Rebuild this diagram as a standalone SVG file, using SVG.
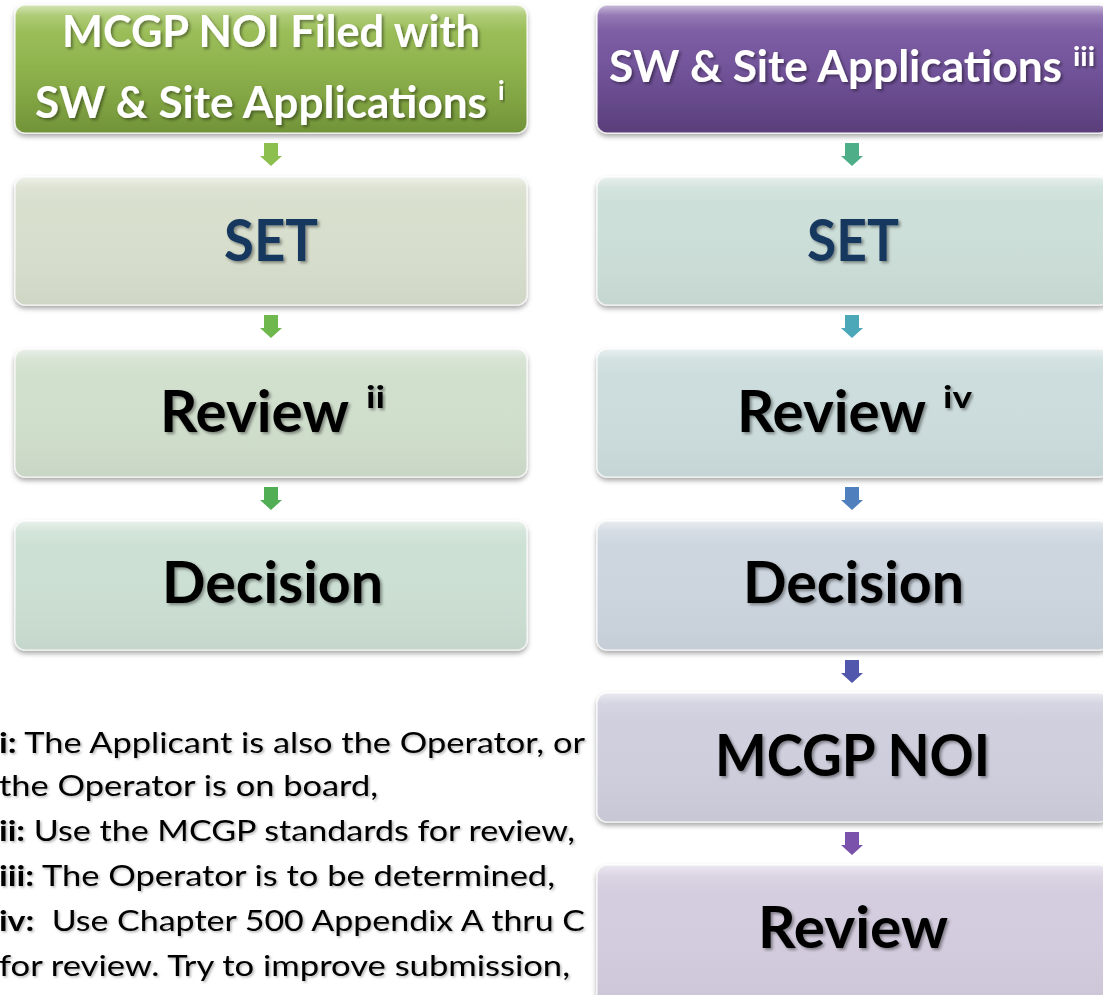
<svg xmlns="http://www.w3.org/2000/svg" width="1103" height="995" viewBox="0 0 1103 995">
<style>
  .hdr { font-family: Lato, "Liberation Sans", sans-serif; font-weight: 700; fill: #ffffff; font-size: 44px; filter: url(#tsh); }
  .lbl { font-family: Lato, "Liberation Sans", sans-serif; font-weight: 700; font-size: 58px; fill: #000000; filter: url(#tsh); }
  .hdr.sup { font-size: 26px; }
  .lbl.sup { font-size: 30px; }
  .navy { fill: #17375E; }
  .note { font-family: Lato, "Liberation Sans", sans-serif; font-size: 28px; fill: #000000; filter: url(#tsh2); }
  .note tspan.b { font-weight: 700; }
  .box { stroke: #ffffff; stroke-opacity: 0.7; stroke-width: 1.5; filter: url(#bsh); }
  .gloss { fill: url(#gloss); }
</style>
<defs>
  <filter id="bsh" x="-5%" y="-10%" width="110%" height="130%">
    <feDropShadow dx="0" dy="3" stdDeviation="2.5" flood-color="#000000" flood-opacity="0.35"/>
  </filter>
  <filter id="tsh" x="-5%" y="-10%" width="110%" height="130%">
    <feDropShadow dx="2" dy="2" stdDeviation="1.5" flood-color="#000000" flood-opacity="0.4"/>
  </filter>
  <filter id="tsh2" x="-5%" y="-10%" width="110%" height="130%">
    <feDropShadow dx="1.5" dy="1.5" stdDeviation="1" flood-color="#000000" flood-opacity="0.3"/>
  </filter>
  <linearGradient id="gGreen" x1="0" y1="0" x2="0" y2="1">
    <stop offset="0" stop-color="#A4C663"/>
    <stop offset="0.5" stop-color="#8EB24B"/>
    <stop offset="1" stop-color="#76993A"/>
  </linearGradient>
  <linearGradient id="gPurple" x1="0" y1="0" x2="0" y2="1">
    <stop offset="0" stop-color="#8666AB"/>
    <stop offset="0.5" stop-color="#71529A"/>
    <stop offset="1" stop-color="#5D407F"/>
  </linearGradient>
  <linearGradient id="gloss" x1="0" y1="0" x2="0" y2="1">
    <stop offset="0" stop-color="#ffffff" stop-opacity="0.55"/>
    <stop offset="0.08" stop-color="#ffffff" stop-opacity="0.15"/>
    <stop offset="0.2" stop-color="#ffffff" stop-opacity="0"/>
    <stop offset="1" stop-color="#000000" stop-opacity="0.04"/>
  </linearGradient>
  <path id="arr" d="M-7,0 H7 V13 H11 L0,23 L-11,13 H-7 Z"/>
</defs>
<rect width="1103" height="995" fill="#ffffff"/>

<g id="connectors">
  <use href="#arr" x="271" y="143" fill="#8DBF4E"/>
  <use href="#arr" x="271" y="315" fill="#6FB84E"/>
  <use href="#arr" x="271" y="487" fill="#52AE55"/>
  <use href="#arr" x="852" y="143" fill="#4DAE88"/>
  <use href="#arr" x="852" y="315" fill="#4AA8B8"/>
  <use href="#arr" x="852" y="487" fill="#4F7FBD"/>
  <use href="#arr" x="852" y="660" fill="#5157AD"/>
  <use href="#arr" x="852" y="832" fill="#7A52AC"/>
</g>

<g id="node-left-header">
  <rect class="box" x="15" y="5" width="512" height="128" rx="10" fill="url(#gGreen)"/>
  <rect class="gloss" x="15" y="5" width="512" height="128" rx="10"/>
  <text class="hdr" x="62" y="47" textLength="418" lengthAdjust="spacingAndGlyphs">MCGP NOI Filed with</text>
  <text class="hdr" x="35" y="118" textLength="452" lengthAdjust="spacingAndGlyphs">SW &amp; Site Applications</text>
  <text class="hdr sup" x="498" y="100">i</text>
</g>
<g id="node-left-set">
  <rect class="box" x="15" y="177" width="512" height="128" rx="10" fill="#D8DFCD"/>
  <rect class="gloss" x="15" y="177" width="512" height="128" rx="10"/>
  <text class="lbl navy" x="224" y="261" textLength="94" lengthAdjust="spacingAndGlyphs">SET</text>
</g>
<g id="node-left-review">
  <rect class="box" x="15" y="349" width="512" height="128" rx="10" fill="#D1DFCD"/>
  <rect class="gloss" x="15" y="349" width="512" height="128" rx="10"/>
  <text class="lbl" x="160" y="432" textLength="189" lengthAdjust="spacingAndGlyphs">Review</text>
  <text class="lbl sup" x="366" y="408" textLength="19" lengthAdjust="spacingAndGlyphs">ii</text>
</g>
<g id="node-left-decision">
  <rect class="box" x="15" y="521" width="512" height="129" rx="10" fill="#CDE0D4"/>
  <rect class="gloss" x="15" y="521" width="512" height="129" rx="10"/>
  <text class="lbl" x="162" y="603" textLength="221" lengthAdjust="spacingAndGlyphs">Decision</text>
</g>

<g id="node-right-header">
  <rect class="box" x="597" y="5" width="512" height="128" rx="10" fill="url(#gPurple)"/>
  <rect class="gloss" x="597" y="5" width="512" height="128" rx="10"/>
  <text class="hdr" x="609" y="82" textLength="453" lengthAdjust="spacingAndGlyphs">SW &amp; Site Applications</text>
  <text class="hdr sup" x="1073" y="66" textLength="22" lengthAdjust="spacingAndGlyphs">iii</text>
</g>
<g id="node-right-set">
  <rect class="box" x="597" y="177" width="512" height="128" rx="10" fill="#CDDFD9"/>
  <rect class="gloss" x="597" y="177" width="512" height="128" rx="10"/>
  <text class="lbl navy" x="807" y="261" textLength="92" lengthAdjust="spacingAndGlyphs">SET</text>
</g>
<g id="node-right-review">
  <rect class="box" x="597" y="349" width="512" height="128" rx="10" fill="#CDDDDD"/>
  <rect class="gloss" x="597" y="349" width="512" height="128" rx="10"/>
  <text class="lbl" x="737" y="432" textLength="189" lengthAdjust="spacingAndGlyphs">Review</text>
  <text class="lbl sup" x="943" y="408" textLength="29" lengthAdjust="spacingAndGlyphs">iv</text>
</g>
<g id="node-right-decision">
  <rect class="box" x="597" y="521" width="512" height="129" rx="10" fill="#CDD6DF"/>
  <rect class="gloss" x="597" y="521" width="512" height="129" rx="10"/>
  <text class="lbl" x="743" y="603" textLength="221" lengthAdjust="spacingAndGlyphs">Decision</text>
</g>
<g id="node-right-mcgp">
  <rect class="box" x="597" y="693" width="512" height="129" rx="10" fill="#CFCFDE"/>
  <rect class="gloss" x="597" y="693" width="512" height="129" rx="10"/>
  <text class="lbl" x="715" y="776" textLength="275" lengthAdjust="spacingAndGlyphs">MCGP NOI</text>
</g>
<g id="node-right-review2">
  <rect class="box" x="597" y="865" width="512" height="140" rx="10" fill="#D4CDDF"/>
  <rect class="gloss" x="597" y="865" width="512" height="140" rx="10"/>
  <text class="lbl" x="758" y="948" textLength="190" lengthAdjust="spacingAndGlyphs">Review</text>
</g>

<g id="footnotes">
  <text class="note" x="-1" y="753" textLength="586" lengthAdjust="spacingAndGlyphs"><tspan class="b">i:</tspan> The Applicant is also the Operator, or</text>
  <text class="note" x="-1" y="796" textLength="379" lengthAdjust="spacingAndGlyphs">the Operator is on board,</text>
  <text class="note" x="-1" y="841" textLength="576" lengthAdjust="spacingAndGlyphs"><tspan class="b">ii:</tspan> Use the MCGP standards for review,</text>
  <text class="note" x="-1" y="886" textLength="556" lengthAdjust="spacingAndGlyphs"><tspan class="b">iii:</tspan> The Operator is to be determined,</text>
  <text class="note" x="-1" y="931" textLength="586" lengthAdjust="spacingAndGlyphs" xml:space="preserve"><tspan class="b">iv:</tspan>  Use Chapter 500 Appendix A thru C</text>
  <text class="note" x="-1" y="976" textLength="571" lengthAdjust="spacingAndGlyphs">for review. Try to improve submission,</text>
</g>
</svg>
